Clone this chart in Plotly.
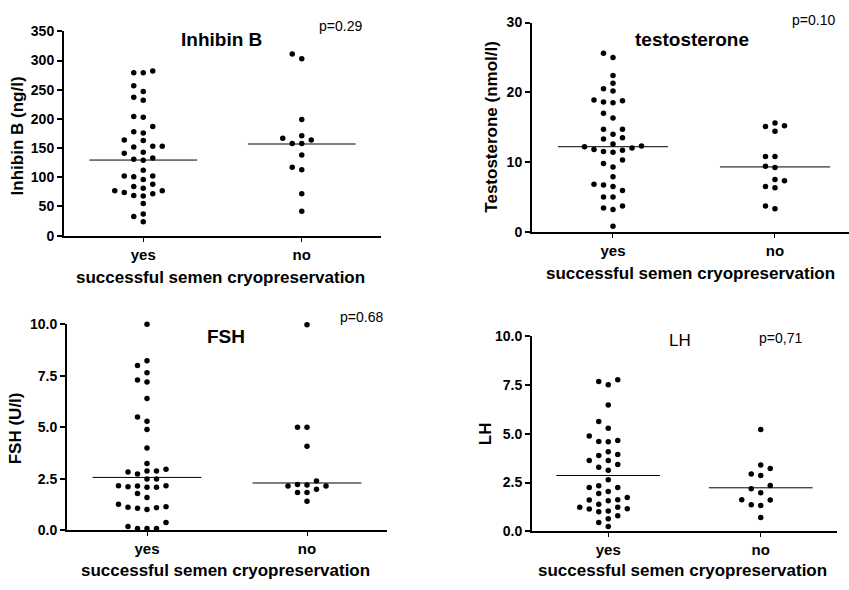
import numpy as np
import plotly.graph_objects as go

# ---------------- data ----------------
categories = ["yes", "no"]

inhibin_yes = [282, 279, 279, 257, 247, 232, 237, 204, 203, 187, 176, 178, 164, 163,
               153, 152, 153, 143, 141, 133, 129, 131, 112, 102, 101, 96, 102, 88, 81,
               77, 77, 84, 69, 72, 74, 68, 55, 37, 33, 24]
inhibin_no = [303, 311, 199, 171, 164, 158, 158, 167, 138, 113, 117, 72, 42]
inhibin_median = [129.5, 157]

testo_yes = [25.6, 25.0, 22.4, 21.3, 20.5, 20.2, 18.8, 18.5, 18.6, 18.9, 17.0, 16.3,
             14.7, 14.7, 14.0, 13.5, 13.3, 12.3, 12.0, 11.7, 11.4, 11.5, 11.8, 12.2,
             12.6, 9.8, 9.3, 10.3, 7.9, 6.7, 6.5, 6.8, 5.9, 5.0, 5.0, 3.4, 3.2, 3.7, 0.8]
testo_no = [15.2, 14.4, 15.1, 15.6, 10.8, 10.8, 9.2, 9.4, 7.5, 6.5, 6.3, 7.3, 3.3, 3.7]
testo_median = [12.2, 9.3]

fsh_yes = [10.0, 8.23, 8.0, 7.65, 7.2, 7.3, 6.4, 5.5, 5.3, 4.9, 4.0, 3.25, 2.97, 2.88,
           2.74, 2.83, 2.88, 2.5, 2.5, 2.17, 2.15, 2.1, 2.1, 2.12, 2.17, 1.79, 1.6,
           1.27, 1.1, 1.08, 1.02, 1.13, 1.15, 0.38, 0.1, 0.1, 0.1, 0.19]
fsh_no = [9.97, 5.0, 5.0, 4.08, 2.23, 2.15, 2.15, 2.2, 2.4, 1.84, 2.0, 1.84, 1.41]
fsh_median = [2.57, 2.3]

lh_yes = [7.76, 7.5, 7.66, 6.47, 5.62, 5.27, 4.88, 4.58, 4.6, 4.65, 4.08, 3.88, 3.63,
          3.63, 3.42, 3.93, 3.28, 3.13, 2.64, 2.24, 2.04, 1.94, 2.24, 2.34, 1.74, 1.62,
          1.39, 1.57, 1.6, 1.24, 1.16, 1.0, 0.8, 1.04, 1.14, 1.24, 0.65, 0.25, 0.45]
lh_no = [5.21, 3.39, 3.22, 2.93, 2.86, 2.35, 2.18, 1.98, 1.62, 1.6, 1.36, 1.32, 0.71]
lh_median = [2.86, 2.23]

titles = ["Inhibin B", "testosterone", "FSH", "LH"]
p_values = ["p=0.29", "p=0.10", "p=0.68", "p=0,71"]
y_titles = ["Inhibin B (ng/l)", "Testosterone (nmol/l)", "FSH (U/l)", "LH"]
x_title = "successful semen cryopreservation"

y_ticks_inhibin = [0, 50, 100, 150, 200, 250, 300, 350]
y_ticks_testo = [0, 10, 20, 30]
y_ticks_hormone = [0.0, 2.5, 5.0, 7.5, 10.0]

# ---------------- layout constants (pixels) ----------------
W, H = 849, 590
FONT = "Liberation Sans, Arial, sans-serif"


def px_x(p):
    return p / W


def px_y(p):
    return 1 - p / H


panels = [
    dict(data=(inhibin_yes, inhibin_no), med=inhibin_median, x=(64, 381), xr=(0.5, 2.5),
         y=(234, 24), yr=(0, 350), ticks=y_ticks_inhibin, fmt="d",
         title=(221, 32, 19, "bold"), p=(340, 18), yt=(17, 132), xt=(220, 277)),
    dict(data=(testo_yes, testo_no), med=testo_median, x=(532, 849), xr=(0.5, 2.457),
         y=(230, 15), yr=(0, 30), ticks=y_ticks_testo, fmt="d",
         title=(692, 32, 19, "bold"), p=(813, 12), yt=(492, 122), xt=(690, 273)),
    dict(data=(fsh_yes, fsh_no), med=fsh_median, x=(67, 387), xr=(0.5, 2.5),
         y=(537, 325), yr=(0, 10), ticks=y_ticks_hormone, fmt=".1f",
         title=(226, 338, 19, "bold"), p=(361, 318), yt=(15, 432), xt=(225, 578)),
    dict(data=(lh_yes, lh_no), med=lh_median, x=(532, 837), xr=(0.5, 2.5),
         y=(538, 337), yr=(0, 10), ticks=y_ticks_hormone, fmt=".1f",
         title=(680, 342, 17, "normal"), p=(780, 339), yt=(485, 437), xt=(682, 578)),
]


def swarm(values, px_per_unit, min_dy=7.5):
    """Greedy beeswarm: returns integer column-slot offsets for each value."""
    vals = np.asarray(values, dtype=float)
    order = np.argsort(vals, kind="stable")
    placed = []
    slots = np.zeros(len(vals))
    for i in order:
        ypx = vals[i] * px_per_unit
        for k in [0, -1, 1, -2, 2, -3, 3, -4, 4, -5, 5]:
            if all(not (s == k and abs(ypx - yy) < min_dy) for s, yy in placed):
                break
        placed.append((k, ypx))
        slots[i] = k
    return slots


fig = go.Figure()
layout = dict(
    width=W, height=H, margin=dict(l=0, r=0, t=0, b=0),
    paper_bgcolor="white", plot_bgcolor="white", showlegend=False,
    font=dict(family=FONT, color="black"),
)
annotations = []
SLOT_PX = 9.5

for idx, pn in enumerate(panels, start=1):
    xa = "x" if idx == 1 else f"x{idx}"
    ya = "y" if idx == 1 else f"y{idx}"
    x0, x1 = pn["x"]
    yb, yt = pn["y"]
    xpx_per_unit = (x1 - x0) / (pn["xr"][1] - pn["xr"][0])
    ypx_per_unit = (yb - yt) / (pn["yr"][1] - pn["yr"][0])

    for ci, vals in enumerate(pn["data"]):
        centre = ci + 1
        slots = swarm(vals, ypx_per_unit)
        xs = centre + slots * SLOT_PX / xpx_per_unit
        fig.add_trace(go.Scatter(
            x=xs, y=vals, mode="markers", xaxis=xa, yaxis=ya, cliponaxis=False,
            marker=dict(color="black", size=5.5, line=dict(width=0)),
            hoverinfo="y"))
        m = pn["med"][ci]
        fig.add_trace(go.Scatter(
            x=[centre - 0.34, centre + 0.34], y=[m, m], mode="lines",
            xaxis=xa, yaxis=ya, line=dict(color="black", width=1), hoverinfo="skip"))

    key_x = "xaxis" if idx == 1 else f"xaxis{idx}"
    key_y = "yaxis" if idx == 1 else f"yaxis{idx}"
    layout[key_x] = dict(
        domain=[px_x(x0), px_x(x1)], range=list(pn["xr"]), anchor=ya,
        tickmode="array", tickvals=[1, 2], ticktext=categories,
        ticks="outside", ticklen=4, tickwidth=1, tickcolor="black",
        showline=True, linecolor="black", linewidth=2, showgrid=False, zeroline=False,
        tickfont=dict(family=FONT, size=15, color="black", weight="bold"),
    )
    layout[key_y] = dict(
        domain=[px_y(yb), px_y(yt)], range=list(pn["yr"]), anchor=xa,
        tickmode="array", tickvals=pn["ticks"],
        ticktext=[format(t, pn["fmt"]) for t in pn["ticks"]],
        ticks="outside", ticklen=5, tickwidth=1.5, tickcolor="black",
        showline=True, linecolor="black", linewidth=2, showgrid=False, zeroline=False,
        tickfont=dict(family=FONT, size=14, color="black", weight="bold"),
    )

    tx, ty, ts, tw = pn["title"]
    annotations.append(dict(x=px_x(tx), y=px_y(ty), xref="paper", yref="paper",
                            text=titles[idx - 1], showarrow=False, xanchor="center",
                            yanchor="middle",
                            font=dict(family=FONT, size=ts, color="black", weight=tw)))
    px_, py_ = pn["p"]
    annotations.append(dict(x=px_x(px_), y=px_y(py_), xref="paper", yref="paper",
                            text=p_values[idx - 1], showarrow=False, xanchor="center",
                            yanchor="middle",
                            font=dict(family=FONT, size=14, color="black")))
    ytx, yty = pn["yt"]
    annotations.append(dict(x=px_x(ytx), y=px_y(yty), xref="paper", yref="paper",
                            text=y_titles[idx - 1], showarrow=False, textangle=-90,
                            xanchor="center", yanchor="middle",
                            font=dict(family=FONT, size=17, color="black", weight="bold")))
    xtx, xty = pn["xt"]
    annotations.append(dict(x=px_x(xtx), y=px_y(xty), xref="paper", yref="paper",
                            text=x_title, showarrow=False, xanchor="center",
                            yanchor="middle",
                            font=dict(family=FONT, size=17, color="black", weight="bold")))

layout["annotations"] = annotations
fig.update_layout(**layout)
fig.write_html("out.html")
